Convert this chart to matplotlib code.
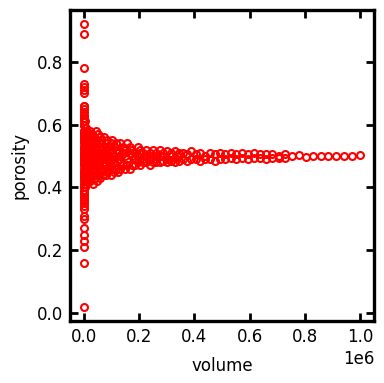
import numpy as np
import matplotlib
matplotlib.use("Agg")
from matplotlib import pyplot as plt

# cube volumes (side 1..100)
volume = [1, 8, 27, 64, 125, 216, 343, 512, 729, 1000,
          1331, 1728, 2197, 2744, 3375, 4096, 4913, 5832, 6859, 8000,
          9261, 10648, 12167, 13824, 15625, 17576, 19683, 21952, 24389, 27000,
          29791, 32768, 35937, 39304, 42875, 46656, 50653, 54872, 59319, 64000,
          68921, 74088, 79507, 85184, 91125, 97336, 103823, 110592, 117649, 125000,
          132651, 140608, 148877, 157464, 166375, 175616, 185193, 195112, 205379, 216000,
          226981, 238328, 250047, 262144, 274625, 287496, 300763, 314432, 328509, 343000,
          357911, 373248, 389017, 405224, 421875, 438976, 456533, 474552, 493039, 512000,
          531441, 551368, 571787, 592704, 614125, 636056, 658503, 681472, 704969, 729000,
          753571, 778688, 804357, 830584, 857375, 884736, 912673, 941192, 970299, 1000000]

# porosity samples measured at each volume
porosity = [
    [0.92, 0.89, 0.02], [0.78, 0.16, 0.73], [0.72, 0.21, 0.71, 0.23],
    [0.70, 0.25, 0.66, 0.27, 0.44], [0.65, 0.30, 0.62, 0.34, 0.50],
    [0.64, 0.31, 0.60, 0.36, 0.47, 0.55], [0.61, 0.33, 0.58, 0.38, 0.45, 0.52],
    [0.60, 0.37, 0.56, 0.40, 0.49, 0.53], [0.58, 0.38, 0.55, 0.42, 0.46, 0.51],
    [0.57, 0.39, 0.54, 0.43, 0.48, 0.50],
    [0.66, 0.35, 0.57, 0.44, 0.51], [0.63, 0.36, 0.55, 0.41, 0.48],
    [0.60, 0.40, 0.53, 0.45, 0.50], [0.62, 0.39, 0.56, 0.43, 0.47],
    [0.59, 0.41, 0.54, 0.46, 0.52], [0.57, 0.42, 0.51, 0.44, 0.49],
    [0.61, 0.40, 0.55, 0.47, 0.50], [0.58, 0.43, 0.53, 0.45, 0.48],
    [0.56, 0.41, 0.52, 0.46, 0.50], [0.59, 0.44, 0.54, 0.47, 0.49],
    [0.57, 0.42, 0.51, 0.48], [0.55, 0.43, 0.53, 0.46], [0.58, 0.44, 0.50, 0.47],
    [0.56, 0.42, 0.52, 0.49], [0.54, 0.45, 0.51, 0.47], [0.57, 0.43, 0.53, 0.48],
    [0.55, 0.44, 0.50, 0.46], [0.58, 0.42, 0.52, 0.49], [0.56, 0.45, 0.51, 0.47],
    [0.54, 0.43, 0.53, 0.48], [0.57, 0.44, 0.50, 0.46], [0.55, 0.41, 0.52, 0.49],
    [0.56, 0.45, 0.51, 0.47], [0.54, 0.43, 0.53, 0.48], [0.58, 0.44, 0.50, 0.46],
    [0.55, 0.42, 0.52, 0.49], [0.57, 0.45, 0.51, 0.47], [0.54, 0.44, 0.53, 0.48],
    [0.56, 0.43, 0.50, 0.46], [0.55, 0.45, 0.52, 0.49], [0.53, 0.44, 0.51, 0.47],
    [0.56, 0.46, 0.50, 0.48], [0.54, 0.44, 0.52, 0.47], [0.55, 0.45, 0.51, 0.49],
    [0.53, 0.46, 0.50, 0.48], [0.54, 0.44, 0.52, 0.47], [0.55, 0.46, 0.51, 0.49],
    [0.53, 0.45, 0.50, 0.48], [0.54, 0.46, 0.52, 0.47], [0.52, 0.45, 0.51, 0.49],
    [0.54, 0.46, 0.50, 0.48], [0.53, 0.47, 0.51], [0.52, 0.46, 0.50],
    [0.54, 0.47, 0.49], [0.53, 0.46, 0.51], [0.52, 0.47, 0.50],
    [0.51, 0.47, 0.49], [0.53, 0.48, 0.50], [0.52, 0.47, 0.51], [0.51, 0.48, 0.49],
    [0.52, 0.48, 0.50], [0.51, 0.47, 0.49], [0.52, 0.48, 0.50], [0.51, 0.48, 0.49],
    [0.52, 0.48, 0.50], [0.51, 0.485, 0.50], [0.515, 0.48, 0.49], [0.51, 0.485, 0.50],
    [0.515, 0.48, 0.495], [0.51, 0.485, 0.50],
    [0.51, 0.49], [0.505, 0.485], [0.515, 0.49], [0.505, 0.49], [0.51, 0.485],
    [0.50, 0.49], [0.51, 0.49], [0.505, 0.485], [0.51, 0.49], [0.505, 0.49],
    [0.51, 0.495], [0.505, 0.49], [0.51, 0.495], [0.505, 0.49], [0.51, 0.495],
    [0.505, 0.495], [0.505, 0.49], [0.505, 0.495], [0.50, 0.495], [0.505, 0.495],
    [0.50], [0.502], [0.498], [0.50], [0.501], [0.499], [0.50], [0.50], [0.501], [0.503],
]


def main() -> None:
    xs = np.concatenate([[v] * len(p) for v, p in zip(volume, porosity)])
    ys = np.concatenate(porosity)

    fig = plt.figure(figsize=(3.84, 3.83), dpi=100)
    ax = fig.add_axes([0.182, 0.162, 0.792, 0.812])
    ax.plot(xs, ys, "o", mfc="none", mec="red", ms=5, mew=1.5)
    ax.set_xlabel("volume", fontsize=12, labelpad=8)
    ax.set_ylabel("porosity", fontsize=12, labelpad=6)
    ax.set_yticks([0.0, 0.2, 0.4, 0.6, 0.8])
    ax.tick_params("both", direction="in", length=6, width=2,
                   top=True, right=True, labelsize=12, pad=5)
    for s in ax.spines.values():
        s.set_linewidth(2.4)
    ax.xaxis.get_offset_text().set_fontsize(12)
    fig.savefig("out.png", dpi=100)


if __name__ == "__main__":
    main()
